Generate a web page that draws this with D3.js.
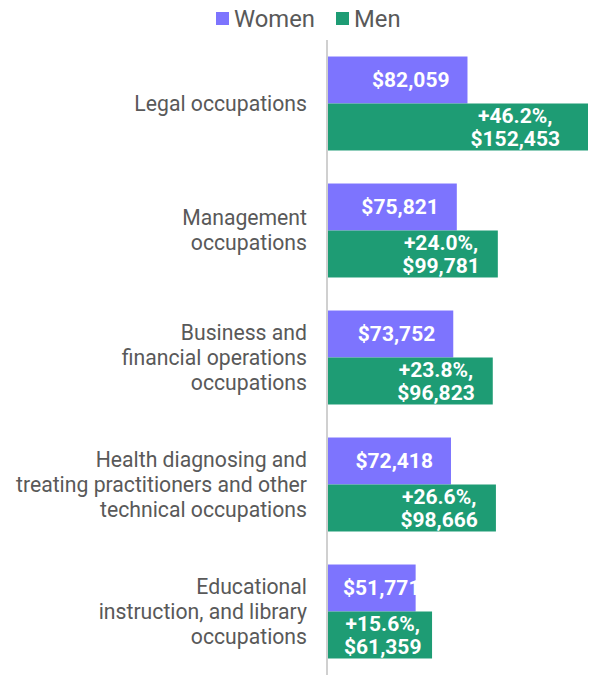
<!DOCTYPE html>
<html>
<head>
<meta charset="utf-8">
<script src="https://cdn.jsdelivr.net/npm/d3@7"></script>
<style>
  body { margin: 0; background: #fff; }
  svg { font-family: Roboto, "Noto Sans", sans-serif; display: block; }
</style>
</head>
<body>
<div id="chart"></div>
<script>
// occupations, label lines as shown on the chart
const categories = [
  ['Legal occupations'],
  ['Management', 'occupations'],
  ['Business and', 'financial operations', 'occupations'],
  ['Health diagnosing and', 'treating practitioners and other', 'technical occupations'],
  ['Educational', 'instruction, and library', 'occupations']
];
const women = [82059, 75821, 73752, 72418, 51771];
const men = [152453, 99781, 96823, 98666, 61359];
const gap = ['+46.2%', '+24.0%', '+23.8%', '+26.6%', '+15.6%'];
const series = ['Women', 'Men'];
const colors = { Women: '#7d74fe', Men: '#1e9c74' };

const width = 589, height = 675;
const fmt = d3.format('$,');

const svg = d3.select('#chart').append('svg')
  .attr('width', width).attr('height', height);

const x = d3.scaleLinear().domain([0, 152453]).range([327, 588]);
const y = d3.scaleBand().domain(d3.range(categories.length))
  .range([40, 675]).paddingInner(0.26).paddingOuter(0.13);
const sub = d3.scaleBand().domain(series).range([0, y.bandwidth()]);

const rows = categories.map((c, i) => ({ i, lines: c, Women: women[i], Men: men[i], gap: gap[i] }));

// bars
const groups = svg.append('g').selectAll('g').data(rows).join('g')
  .attr('transform', d => `translate(0,${y(d.i)})`);

groups.selectAll('rect').data(d => series.map(s => ({ s, v: d[s] })))
  .join('rect')
  .attr('x', x(0))
  .attr('y', d => sub(d.s))
  .attr('height', sub.bandwidth())
  .attr('width', d => x(d.v) - x(0))
  .attr('fill', d => colors[d.s]);

// axis line
svg.append('line')
  .attr('x1', x(0)).attr('x2', x(0))
  .attr('y1', 40).attr('y2', height)
  .attr('stroke', '#d0d0d0').attr('stroke-width', 2);

// category labels
svg.append('g').selectAll('text').data(rows).join('text')
  .attr('text-anchor', 'end')
  .attr('font-size', 21.2)
  .attr('fill', '#595959')
  .each(function (d) {
    const n = d.lines.length;
    const cy = y(d.i) + y.bandwidth() / 2;
    d3.select(this).selectAll('tspan').data(d.lines).join('tspan')
      .attr('x', 307)
      .attr('y', (t, k) => cy + (k - (n - 1) / 2) * 25)
      .attr('dy', '0.35em')
      .text(t => t);
  });

// women value labels
groups.append('text')
  .attr('font-size', 21).attr('font-weight', 'bold').attr('fill', '#fff')
  .attr('y', sub('Women') + sub.bandwidth() / 2)
  .attr('dy', '0.35em')
  .text(d => fmt(d.Women))
  .each(function (d) {
    const w = this.getComputedTextLength();
    const left = Math.max(x(d.Women) - 18 - w, x(0) + 16);
    d3.select(this).attr('x', left);
  });

// men value labels (two lines, centred)
groups.append('text')
  .attr('font-size', 21).attr('font-weight', 'bold').attr('fill', '#fff')
  .attr('text-anchor', 'middle')
  .each(function (d) {
    const t = d3.select(this);
    const cy = sub('Men') + sub.bandwidth() / 2;
    const lines = [d.gap + ',', fmt(d.Men)];
    t.selectAll('tspan').data(lines).join('tspan')
      .attr('y', (s, k) => cy + (k - 0.5) * 23)
      .attr('dy', '0.35em')
      .text(s => s);
    let w = 0;
    t.selectAll('tspan').each(function () { w = Math.max(w, this.getComputedTextLength()); });
    let right = Math.min(x(d.Men) - 18, 560);
    right = Math.max(right, x(0) + 17 + w);
    t.selectAll('tspan').attr('x', right - w / 2);
  });

// legend
const legend = svg.append('g');
const lx = [216, 336];
series.forEach((s, i) => {
  legend.append('rect')
    .attr('x', lx[i]).attr('y', 12).attr('width', 13).attr('height', 13)
    .attr('fill', colors[s]);
  legend.append('text')
    .attr('x', lx[i] + 18).attr('y', 19).attr('dy', '0.35em')
    .attr('font-size', 23.8).attr('fill', '#595959')
    .text(s);
});
</script>
</body>
</html>
